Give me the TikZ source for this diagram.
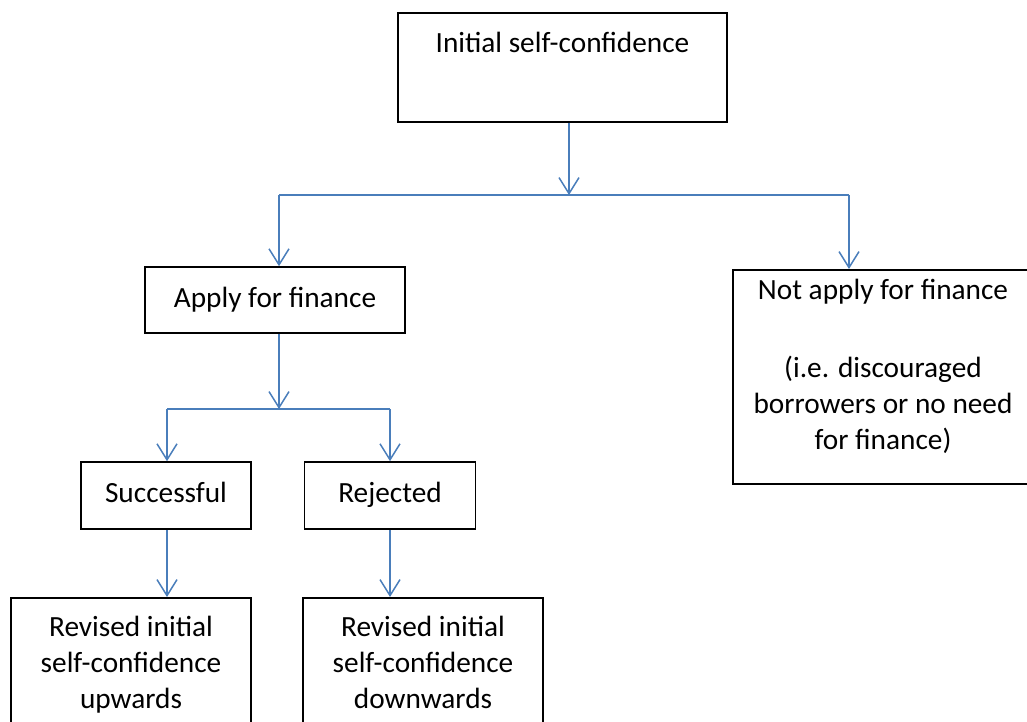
\documentclass[tikz,border=0pt]{standalone}
\usepackage{fontspec}
\setmainfont{Carlito}
\usepackage{tikz}
\usetikzlibrary{arrows.meta}
\definecolor{linkblue}{RGB}{74,126,187}

\begin{document}
\begin{tikzpicture}[x=1pt,y=-1pt,
    box/.style={draw=black,line width=1.6pt,inner sep=0pt,align=center,font=\fontsize{29.3}{36}\selectfont},
    flow/.style={draw=linkblue,line width=1.5pt},
    arr/.style={flow,-{Straight Barb[length=16pt,width=20pt]}}]
          \useasboundingbox (0,0) rectangle (1027,722);
          \clip (0,0) rectangle (1027,722);
          % Initial
          \node[box,anchor=north,minimum width=329pt,text height=40pt,text depth=69pt] (init) at (562.5,12) {Initial self-confidence};
          % Apply
          \node[box,minimum width=260pt,minimum height=66pt,text height=20.5pt,text depth=5.9pt] (apply) at (275,300) {Apply for finance};
          % Not apply
          \node[box,anchor=north,minimum width=300pt,text height=180pt,text depth=34pt] (notapply) at (883,269) {Not apply for finance\\[42pt] (i.e. discouraged\\ borrowers or no need\\ for finance)};
          % Successful
          \node[box,minimum width=170pt,minimum height=67pt,text height=20.5pt,text depth=5.9pt] (succ) at (166,495.5) {Successful};
          % Rejected
          \node[box,minimum width=171pt,minimum height=67pt,text height=20.5pt,text depth=5.9pt] (rej) at (390,495.5) {Rejected};
          % Revised up
          \node[box,anchor=north,minimum width=240pt,text height=111pt,text depth=22pt] (revup) at (131,597) {Revised initial\\ self-confidence\\ upwards};
          % Revised down
          \node[box,anchor=north,minimum width=240pt,text height=111pt,text depth=22pt] (revdown) at (423,597) {Revised initial\\ self-confidence\\ downwards};
          % split below initial
          \coordinate (fork1) at (569,195);
          \coordinate (fork1l) at (279,195);
          \coordinate (fork1r) at (849,195);
          \draw [arr] (init.south -| fork1) -- (fork1);
          \draw [flow] (fork1l) -- (fork1r);
          \draw [arr] (fork1l) -- (fork1l |- apply.north);
          \draw [arr] (fork1r) -- (fork1r |- notapply.north);
          % split below apply
          \coordinate (fork2) at (279,409);
          \coordinate (fork2l) at (167,409);
          \coordinate (fork2r) at (390,409);
          \draw [arr] (apply.south -| fork2) -- (fork2);
          \draw [flow] (fork2l) -- (fork2r);
          \draw [arr] (fork2l) -- (fork2l |- succ.north);
          \draw [arr] (fork2r) -- (fork2r |- rej.north);
          % outcomes
          \draw [arr] (succ.south -| fork2l) -- (fork2l |- revup.north);
          \draw [arr] (rej.south -| fork2r) -- (fork2r |- revdown.north);
\end{tikzpicture}
\end{document}
